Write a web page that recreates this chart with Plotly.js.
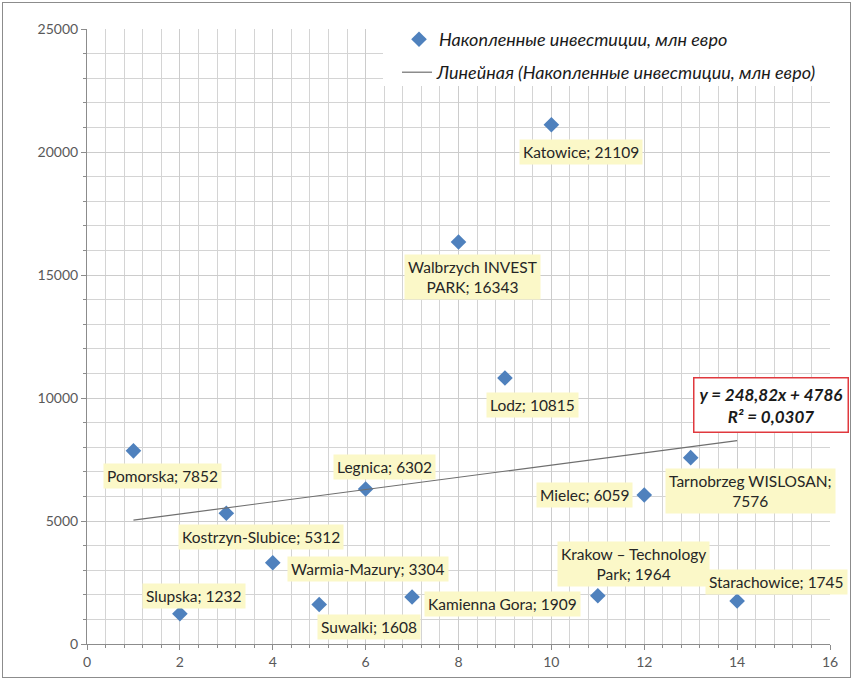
<!DOCTYPE html>
<html>
<head>
<meta charset="utf-8">
<script src="https://cdn.plot.ly/plotly-3.0.1.min.js"></script>
<style>
html,body{margin:0;padding:0;background:#fff;}
#wrap{position:absolute;left:2px;top:2px;width:849px;height:676px;border:1px solid #8c8c8c;box-sizing:border-box;}
#chart{position:absolute;left:0;top:0;width:855px;height:682px;}
</style>
</head>
<body>
<div id="wrap"></div>
<div id="chart"></div>
<script>
// ---- data ----
const parkNames = ["Pomorska","Slupska","Kostrzyn-Slubice","Warmia-Mazury","Suwalki","Legnica","Kamienna Gora","Walbrzych INVEST<br>PARK","Lodz","Katowice","Krakow – Technology<br>Park","Mielec","Tarnobrzeg WISLOSAN;<br>","Starachowice"];
const parkIndex = [1,2,3,4,5,6,7,8,9,10,11,12,13,14];
const investments = [7852,1232,5312,3304,1608,6302,1909,16343,10815,21109,1964,6059,7576,1745];
const seriesName = "Накопленные инвестиции, млн евро";
const trendName = "Линейная (Накопленные инвестиции, млн евро)";
const xTicks = [0,2,4,6,8,10,12,14,16];
const yTicks = [0,5000,10000,15000,20000,25000];

// label placement (pixel shift right / down, and horizontal anchor) for each point's data label
const labelOffsets = [[29,25],[14,-18],[35,24],[14,6],[50,23],[19,-22],[12,7],[14,35],[28,27],[30,27],[36,-32],[-11,0],[60,33],[39,-19]];
const labelAnchors = ['center','center','center','left','center','center','left','center','center','center','center','right','center','center'];

// ---- linear regression ----
const n = parkIndex.length;
const mx = parkIndex.reduce((a,b)=>a+b,0)/n;
const my = investments.reduce((a,b)=>a+b,0)/n;
let sxx=0, sxy=0, syy=0;
for (let i=0;i<n;i++){ sxx+=(parkIndex[i]-mx)**2; sxy+=(parkIndex[i]-mx)*(investments[i]-my); syy+=(investments[i]-my)**2; }
const slope = sxy/sxx;
const intercept = my - slope*mx;
const r2 = (sxy*sxy)/(sxx*syy);
const xmin = Math.min(...parkIndex), xmax = Math.max(...parkIndex);
const trendX = [xmin, xmax];
const trendY = trendX.map(x=>slope*x+intercept);

const fmt = (v,d)=>v.toFixed(d).replace('.',',');

const FONT = "Lato, 'Open Sans', sans-serif";

const pts = {
  x: parkIndex, y: investments, type:'scatter', mode:'markers', name: seriesName,
  marker:{symbol:'diamond', size:12, color:'#4F81BD'}, legend:'legend', cliponaxis:false
};
const trend = {
  x: trendX, y: trendY, type:'scatter', mode:'lines', name: trendName,
  line:{color:'#6f6f6f', width:1.2}, legend:'legend2'
};

const annotations = parkIndex.map((x,i)=>{
  let txt = parkNames[i];
  if (txt.endsWith('<br>')) txt = txt + investments[i];
  else txt = txt + '; ' + investments[i];
  return {
    x: x, y: investments[i], xref:'x', yref:'y', text: txt, showarrow:false,
    xanchor: labelAnchors[i], yanchor:'middle',
    xshift: labelOffsets[i][0], yshift: -labelOffsets[i][1],
    bgcolor:'#FBF8C8', borderpad:3, font:{family:FONT, size:15.5, color:'#262626'}
  };
});
annotations.push({
  xref:'paper', yref:'paper', x:(771-87)/743, y:(644-405)/615, xanchor:'center', yanchor:'middle',
  text: '<b><i>y = ' + fmt(slope,2) + 'x + ' + Math.round(intercept) + '</i></b><br><b><i>R² = ' + fmt(r2,4) + '</i></b>',
  showarrow:false, bgcolor:'#ffffff', bordercolor:'#E0393E', borderwidth:1.5, borderpad:5,
  font:{family:FONT, size:17, color:'#1a1a1a'}
});

const layout = {
  width:855, height:682,
  margin:{l:87, r:25, t:29, b:38},
  paper_bgcolor:'rgba(0,0,0,0)', plot_bgcolor:'#ffffff',
  showlegend:true,
  legend:{x:(399-87)/743, y:(644-21)/615, xanchor:'left', yanchor:'top', bgcolor:'rgba(0,0,0,0)', font:{family:FONT, size:18, color:'#1a1a1a', style:'italic'}},
  legend2:{x:(397-87)/743, y:(644-54)/615, xanchor:'left', yanchor:'top', bgcolor:'rgba(0,0,0,0)', font:{family:FONT, size:18, color:'#1a1a1a', style:'italic'}},
  xaxis:{range:[0,16], tickvals:xTicks, ticktext:xTicks.map(String), showgrid:true, gridcolor:'#cccccc', gridwidth:1,
    minor:{dtick:0.4, showgrid:true, gridcolor:'#d4d4d4', ticks:'outside', ticklen:3, tickcolor:'#8c8c8c'},
    zeroline:false, showline:true, linecolor:'#8c8c8c', ticks:'outside', ticklen:5, tickcolor:'#8c8c8c',
    tickfont:{family:FONT, size:14, color:'#595959'}, fixedrange:true},
  yaxis:{range:[0,25000], tickvals:yTicks, ticktext:yTicks.map(String), showgrid:true, gridcolor:'#cccccc', gridwidth:1,
    minor:{dtick:1000, showgrid:true, gridcolor:'#d4d4d4', ticks:'outside', ticklen:3, tickcolor:'#8c8c8c'},
    zeroline:false, showline:true, linecolor:'#8c8c8c', ticks:'outside', ticklen:5, tickcolor:'#8c8c8c',
    tickfont:{family:FONT, size:14, color:'#595959'}, fixedrange:true},
  shapes:[{type:'rect', xref:'paper', yref:'paper', x0:(383-87)/743, x1:(850-87)/743, y0:(644-86)/615, y1:(644-14)/615,
    fillcolor:'#ffffff', line:{width:0}, layer:'above'}],
  annotations: annotations
};

Plotly.newPlot('chart', [pts, trend], layout, {displayModeBar:false, staticPlot:true});
</script>
</body>
</html>
